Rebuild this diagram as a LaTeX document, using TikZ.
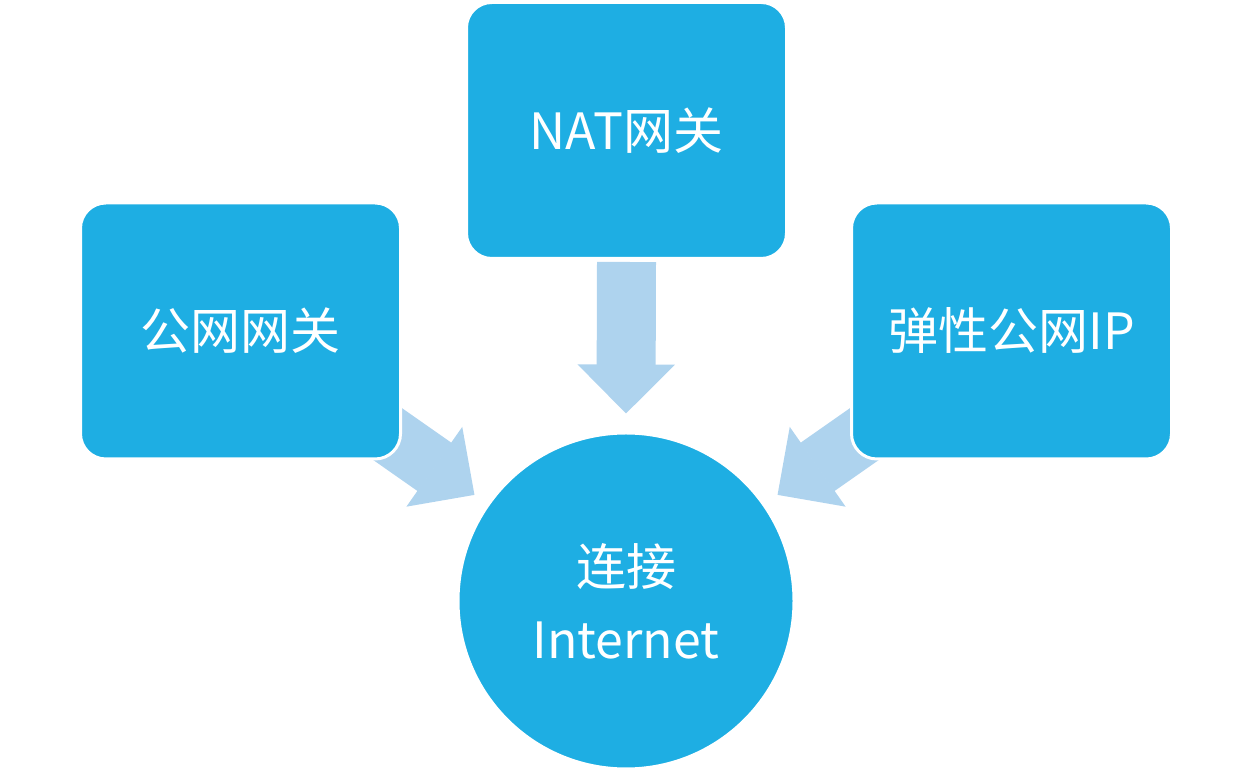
\documentclass[tikz,border=0pt]{standalone}
\usepackage{fontspec}
\setmainfont{Noto Sans CJK SC}
\usetikzlibrary{calc,arrows.meta}
\definecolor{boxblue}{RGB}{30,174,227}
\definecolor{arrowblue}{RGB}{174,211,238}
\tikzset{
	box/.style={rectangle, rounded corners=19pt, fill=boxblue, draw=white, line width=2.25pt, minimum width=240pt, minimum height=192pt, text=white, font=\fontsize{37.5}{45}\selectfont},
	hub/.style={circle, fill=boxblue, draw=white, line width=2.25pt, minimum size=252pt, inner sep=0pt, text=white, align=center, font=\fontsize{37.5}{55}\selectfont},
	flow/.style={draw=arrowblue, line width=44.25pt, -{Triangle[length=36.75pt, width=72.75pt, line width=1.5pt]}}
}

\begin{document}
\begin{tikzpicture}[x=0.75pt, y=0.75pt]
			%%%%% START %%%%%
			
			\useasboundingbox (0,0) rectangle (1252,773);
			
			\node[hub] (inet) at (626,172) {连接\\Internet};
			
			% side arrows go under the boxes
			\draw[flow] ($(inet.center)+(145:340)$) -- ($(inet.center)+(145:185)$);
			\draw[flow] ($(inet.center)+(35:340)$) -- ($(inet.center)+(35:185)$);
			
			\node[box] (nat) at (626.5,642.5) {NAT网关};
			\node[box] (pubgw) at (240.5,442) {公网网关};
			\node[box] (eip) at (1011.5,442) {弹性公网IP};
			
			\draw[flow] ($(nat.south)+(0,-2)$) -- ($(inet.north)+(0,18)$);
			
			%%%%% END %%%%%
\end{tikzpicture}
\end{document}
